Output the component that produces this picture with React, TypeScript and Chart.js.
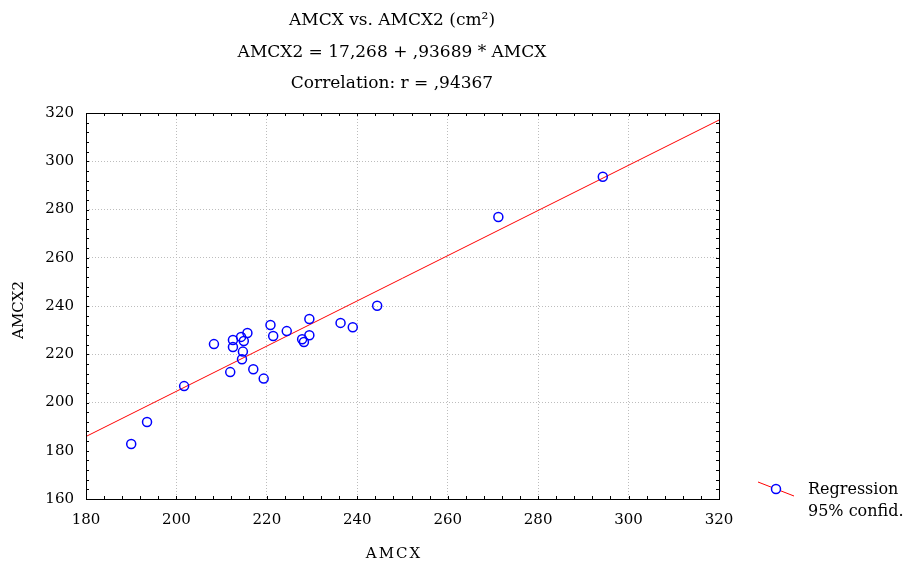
import React, { useEffect, useRef } from "react";
import { Chart, registerables } from "chart.js";

Chart.register(...registerables);

// ---- data ----
const AMCX = [190.0, 193.5, 201.7, 208.3, 211.9, 212.5, 212.5, 214.3, 214.5, 214.7, 214.9, 215.7, 217.0, 219.3, 220.8, 221.4, 224.4, 227.8, 228.2, 229.4, 229.4, 236.3, 239.0, 244.4, 271.2, 294.3];
const AMCX2 = [182.8, 191.9, 206.8, 224.2, 212.6, 225.9, 223.0, 227.2, 217.9, 221.1, 225.5, 228.8, 213.8, 209.9, 232.1, 227.6, 229.6, 226.2, 225.1, 234.6, 227.9, 233.0, 231.2, 240.1, 276.9, 293.6];

const INTERCEPT = 17.268;
const SLOPE = 0.93689;

const X_MIN = 180;
const X_MAX = 320;
const Y_MIN = 160;
const Y_MAX = 320;
const MAJOR_STEP = 20;
const MINOR_STEP = 4;

const TITLE_LINES = ["AMCX vs. AMCX2 (cm²)", "AMCX2 = 17,268 + ,93689 * AMCX", "Correlation: r = ,94367"];
const X_TITLE = "AMCX";
const Y_TITLE = "AMCX2";
const LEGEND_LABELS = ["Regression", "95% confid."];

const FONT = '"DejaVu Serif", serif';
const BLUE = "#0000ff";
const RED = "#ff0000";

const decorPlugin = {
  id: "decor",
  afterDraw(chart: any) {
    const { ctx, chartArea: a, scales } = chart;
    const xs = scales.x;
    const ys = scales.y;
    const TICK = 3;
    ctx.save();
    // minor ticks inward on all four sides
    ctx.strokeStyle = "#000";
    ctx.lineWidth = 1;
    ctx.beginPath();
    for (let v = X_MIN; v <= X_MAX + 1e-9; v += MINOR_STEP) {
      const px = Math.round(xs.getPixelForValue(v)) + 0.5;
      ctx.moveTo(px, a.bottom);
      ctx.lineTo(px, a.bottom - TICK);
      ctx.moveTo(px, a.top);
      ctx.lineTo(px, a.top + TICK);
    }
    for (let v = Y_MIN; v <= Y_MAX + 1e-9; v += MINOR_STEP) {
      const py = Math.round(ys.getPixelForValue(v)) + 0.5;
      ctx.moveTo(a.left, py);
      ctx.lineTo(a.left + TICK, py);
      ctx.moveTo(a.right, py);
      ctx.lineTo(a.right - TICK, py);
    }
    ctx.stroke();
    // frame
    ctx.strokeRect(Math.round(a.left) + 0.5, Math.round(a.top) + 0.5, Math.round(a.right - a.left), Math.round(a.bottom - a.top));

    // titles
    ctx.fillStyle = "#000";
    ctx.textAlign = "center";
    ctx.textBaseline = "middle";
    ctx.font = `17px ${FONT}`;
    const titleY = [21, 53, 84];
    TITLE_LINES.forEach((t, i) => ctx.fillText(t, 392, titleY[i]));

    // axis titles
    ctx.font = `15px ${FONT}`;
    (ctx as any).letterSpacing = "2px";
    ctx.fillText(X_TITLE, 394, 554);
    (ctx as any).letterSpacing = "0px";
    ctx.save();
    ctx.translate(19, 310);
    ctx.rotate(-Math.PI / 2);
    ctx.fillText(Y_TITLE, 0, 0);
    ctx.restore();

    // legend
    ctx.strokeStyle = RED;
    ctx.beginPath();
    ctx.moveTo(758, 482);
    ctx.lineTo(794, 496);
    ctx.stroke();
    ctx.strokeStyle = BLUE;
    ctx.lineWidth = 1.5;
    ctx.beginPath();
    ctx.arc(776, 489, 4.5, 0, Math.PI * 2);
    ctx.fillStyle = "#fff";
    ctx.fill();
    ctx.stroke();
    ctx.fillStyle = "#000";
    ctx.textAlign = "left";
    ctx.font = `16px ${FONT}`;
    ctx.fillText(LEGEND_LABELS[0], 808, 490);
    ctx.fillText(LEGEND_LABELS[1], 808, 512);
    ctx.restore();
  },
};

export default function App() {
  const ref = useRef<HTMLCanvasElement | null>(null);
  useEffect(() => {
    if (!ref.current) return;
    const points = AMCX.map((x, i) => ({ x, y: AMCX2[i] }));
    const regLine = [
      { x: X_MIN, y: INTERCEPT + SLOPE * X_MIN },
      { x: X_MAX, y: INTERCEPT + SLOPE * X_MAX },
    ];
    const gridColor = (c: any) => {
      const v = c.tick ? c.tick.value : null;
      if (v === X_MIN || v === X_MAX || v === Y_MIN || v === Y_MAX) return "rgba(0,0,0,0)";
      return "#bdbdbd";
    };
    const chart = new Chart(ref.current, {
      type: "scatter",
      data: {
        datasets: [
          {
            label: "points",
            data: points,
            pointStyle: "circle",
            pointRadius: 4.5,
            pointBorderWidth: 1.5,
            borderColor: BLUE,
            backgroundColor: "rgba(0,0,0,0)",
            order: 0,
          } as any,
          {
            type: "line",
            label: "Regression",
            data: regLine,
            borderColor: RED,
            borderWidth: 1,
            pointRadius: 0,
            showLine: true,
            fill: false,
            order: 1,
          } as any,
        ],
      },
      options: {
        responsive: false,
        animation: false,
        devicePixelRatio: 1,
        layout: { padding: { top: 113, right: 194, left: 0, bottom: 0 } },
        plugins: { legend: { display: false }, tooltip: { enabled: false }, title: { display: false } },
        events: [],
        scales: {
          x: {
            type: "linear",
            min: X_MIN,
            max: X_MAX,
            ticks: { stepSize: MAJOR_STEP, color: "#000", font: { family: FONT, size: 15 }, padding: 12, maxRotation: 0, autoSkip: false },
            grid: { color: gridColor, drawTicks: false, lineWidth: 1 },
            border: { display: false, dash: [1, 2] },
            afterFit: (s: any) => {
              s.height = 64;
            },
          },
          y: {
            type: "linear",
            min: Y_MIN,
            max: Y_MAX,
            ticks: { stepSize: MAJOR_STEP, color: "#000", font: { family: FONT, size: 15 }, padding: 12, autoSkip: false },
            grid: { color: gridColor, drawTicks: false, lineWidth: 1 },
            border: { display: false, dash: [1, 2] },
            afterFit: (s: any) => {
              s.width = 86;
            },
          },
        },
      },
      plugins: [decorPlugin],
    });
    return () => chart.destroy();
  }, []);
  return (
    <div style={{ position: "absolute", left: 0, top: 0, width: 913, height: 563, background: "#fff" }}>
      <canvas ref={ref} width={913} height={563} style={{ display: "block" }} />
    </div>
  );
}
